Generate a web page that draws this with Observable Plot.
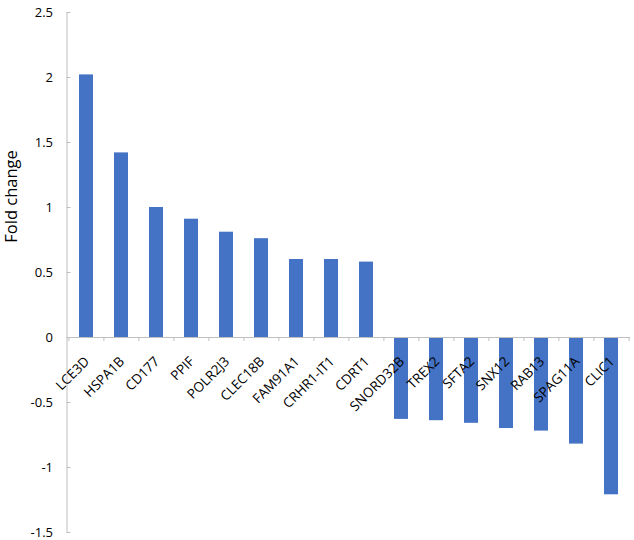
<!DOCTYPE html>
<html><head><meta charset="utf-8">
<script src="https://cdn.jsdelivr.net/npm/d3@7"></script>
<script src="https://cdn.jsdelivr.net/npm/@observablehq/plot@0.6"></script>
<style>body{margin:0;background:#fff}#chart{position:absolute;left:0;top:0}</style>
</head><body><div id="chart"></div>
<script>
const genes = ["LCE3D","HSPA1B","CD177","PPIF","POLR2J3","CLEC18B","FAM91A1","CRHR1-IT1","CDRT1","SNORD32B","TREX2","SFTA2","SNX12","RAB13","SPAG11A","CLIC1"];
const foldChange = [2.02,1.42,1.0,0.91,0.81,0.76,0.60,0.60,0.58,-0.63,-0.64,-0.66,-0.70,-0.72,-0.82,-1.21];
const yTicks = [-1.5,-1,-0.5,0,0.5,1,1.5,2,2.5];
const yLabel = "Fold change";
const labelPos = [1.085];

const data = genes.map((g, i) => ({gene: g, value: foldChange[i]}));
const W = 634, H = 540, mL = 66.5, mR = 4, mT = 12, mB = 8;
const step = (W - mL - mR) / genes.length;
const grey = "#bfbfbf";
const last = [genes[genes.length - 1]];

const chart = Plot.plot({
  width: W, height: H,
  marginLeft: mL, marginRight: mR, marginTop: mT, marginBottom: mB,
  style: {fontFamily: "'Open Sans', sans-serif", fontSize: "13px", color: "#000", background: "#fff"},
  x: {domain: genes, paddingInner: 0.59, paddingOuter: 0.295, axis: null},
  y: {domain: [-1.5, 2.5], axis: null},
  marks: [
    Plot.frame({anchor: "left", stroke: grey}),
    Plot.axisY({ticks: yTicks, tickSize: -4, tickPadding: 18, stroke: grey, fill: "#000", tickFormat: d => String(d), label: null, fontSize: 13}),
    Plot.barY(data, {x: "gene", y: "value", fill: "#4472C4"}),
    Plot.ruleY([0], {stroke: grey}),
    Plot.ruleX(genes, {x: d => d, y1: 0, y2: 0, insetBottom: -4, dx: -step / 2, stroke: grey}),
    Plot.ruleX(last, {x: d => d, y1: 0, y2: 0, insetBottom: -4, dx: step / 2, stroke: grey}),
    Plot.text(data, {x: "gene", y: 0, text: "gene", rotate: -45, textAnchor: "end", lineAnchor: "top", dx: -3, dy: 18, fontSize: 13.5, fill: "#000"}),
    Plot.text([yLabel], {y: labelPos, frameAnchor: "left", textAnchor: "middle", lineAnchor: "middle", rotate: -90, dx: -55.5, fontSize: 16.5, fill: "#000"})
  ]
});
document.getElementById("chart").appendChild(chart);
</script></body></html>
